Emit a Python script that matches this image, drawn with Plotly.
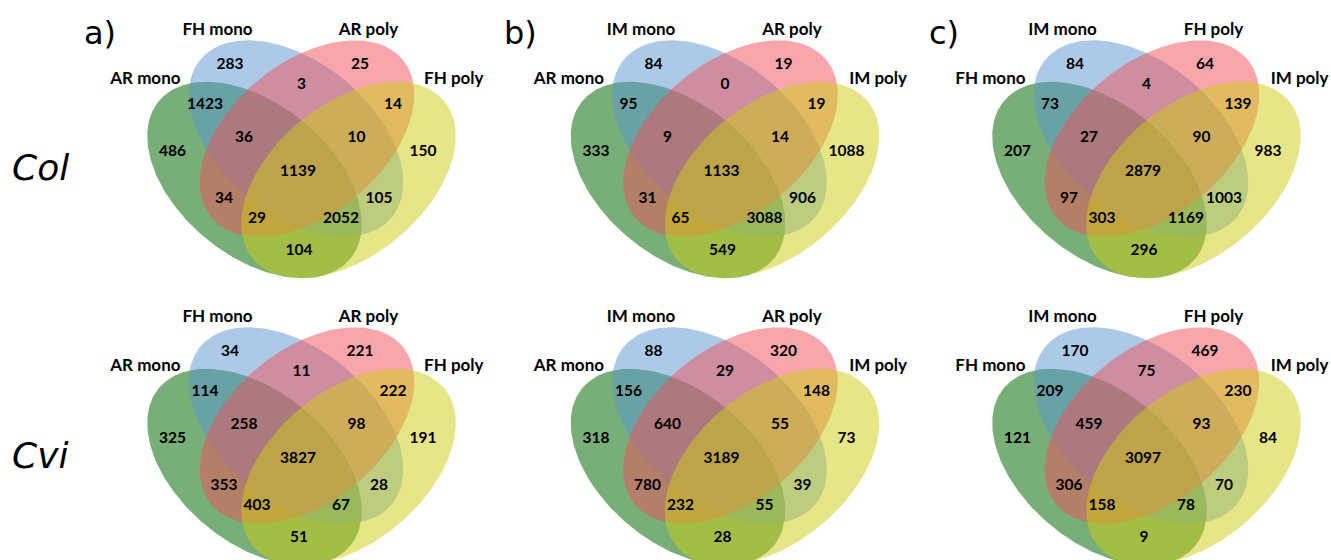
import numpy as np
import plotly.graph_objects as go

# ---------------- data ----------------
ROW_LABELS = ["Col", "Cvi"]
PANEL_LETTERS = ["a)", "b)", "c)"]

SETS_A = ["AR mono", "FH mono", "AR poly", "FH poly"]
SETS_B = ["AR mono", "IM mono", "AR poly", "IM poly"]
SETS_C = ["FH mono", "IM mono", "FH poly", "IM poly"]

# region keys: A = green (left), B = blue, C = red, D = yellow (right)
REGIONS = ["A", "B", "C", "D", "AB", "AC", "AD", "BC", "BD", "CD",
           "ABC", "ABD", "ACD", "BCD", "ABCD"]

COL_A = [486, 283, 25, 150, 1423, 34, 104, 3, 105, 14, 36, 2052, 29, 10, 1139]
COL_B = [333, 84, 19, 1088, 95, 31, 549, 0, 906, 19, 9, 3088, 65, 14, 1133]
COL_C = [207, 84, 64, 983, 73, 97, 296, 4, 1003, 139, 27, 1169, 303, 90, 2879]
CVI_A = [325, 34, 221, 191, 114, 353, 51, 11, 28, 222, 258, 67, 403, 98, 3827]
CVI_B = [318, 88, 320, 73, 156, 780, 28, 29, 39, 148, 640, 55, 232, 55, 3189]
CVI_C = [121, 170, 469, 84, 209, 306, 9, 75, 70, 230, 459, 78, 158, 93, 3097]

# ---------------- layout / style ----------------
W, H = 1331, 560
PANEL_CX = [301.5, 725, 1146.5]
ROW_DY = [0, 287]

# ellipse geometry (relative to panel centre x and row top)
ELL_A, ELL_B, ELL_TH = 124.0, 76.0, np.deg2rad(39.4)
ELL_CENTERS = {"A": (-47.0, 180.0, +1), "B": (-5.5, 138.5, +1),
               "C": (5.5, 138.5, -1), "D": (47.0, 180.0, -1)}
ELL_COLORS = {"A": "rgba(30,120,30,0.6)", "B": "rgba(90,150,210,0.5)",
              "C": "rgba(240,80,90,0.5)", "D": "rgba(205,205,20,0.5)"}

REGION_POS = {"A": (-129, 152), "B": (-71.5, 65), "C": (58.5, 65), "D": (121.5, 152),
              "AB": (-96.5, 105), "AC": (-77.5, 199), "AD": (-2.5, 251),
              "BC": (0, 85), "BD": (77.5, 199), "CD": (91.5, 105),
              "ABC": (-57.5, 138), "ABD": (39.5, 219), "ACD": (-44.5, 219),
              "BCD": (55, 138), "ABCD": (-3.5, 172)}
# (x, y, textposition) for the four set labels
LABEL_POS = [(-121, 79.5, "middle left"), (-84, 30.5, "middle center"),
             (67, 30.5, "middle center"), (182, 79.5, "middle left")]

NUM_FONT = dict(family="Lato", size=15.5, color="black")
LAB_FONT = dict(family="Lato", size=17, color="black")

panels = [
    [(SETS_A, COL_A), (SETS_B, COL_B), (SETS_C, COL_C)],
    [(SETS_A, CVI_A), (SETS_B, CVI_B), (SETS_C, CVI_C)],
]

fig = go.Figure()
t = np.linspace(0, 2 * np.pi, 240)

for r, row in enumerate(panels):
    dy = ROW_DY[r]
    for p, (names, vals) in enumerate(row):
        cx0 = PANEL_CX[p]
        for key in ["A", "B", "C", "D"]:
            ox, oy, sgn = ELL_CENTERS[key]
            ux, uy = sgn * np.cos(ELL_TH), np.sin(ELL_TH)
            vx, vy = -uy, ux
            xs = cx0 + ox + ELL_A * np.cos(t) * ux + ELL_B * np.sin(t) * vx
            ys = dy + oy + ELL_A * np.cos(t) * uy + ELL_B * np.sin(t) * vy
            fig.add_trace(go.Scatter(x=xs, y=ys, mode="lines", fill="toself",
                                     fillcolor=ELL_COLORS[key], line=dict(width=0),
                                     hoverinfo="skip", showlegend=False))
        # counts
        fig.add_trace(go.Scatter(
            x=[cx0 + REGION_POS[k][0] for k in REGIONS],
            y=[dy + REGION_POS[k][1] for k in REGIONS],
            text=[f"<b>{v}</b>" for v in vals], mode="text",
            textfont=NUM_FONT, textposition="middle center",
            hoverinfo="skip", showlegend=False))
        # set labels
        for (lx, ly, tp), name in zip(LABEL_POS, names):
            fig.add_trace(go.Scatter(
                x=[cx0 + lx], y=[dy + ly], text=[f"<b>{name}</b>"], mode="text",
                textfont=LAB_FONT, textposition=tp,
                hoverinfo="skip", showlegend=False))

# panel letters
LETTER_X = [100, 520, 944]
for p, letter in enumerate(PANEL_LETTERS):
    fig.add_annotation(x=LETTER_X[p], y=33, text=letter, showarrow=False,
                       font=dict(family="DejaVu Sans", size=32, color="black"),
                       xanchor="center", yanchor="middle")
# row labels
for r, lab in enumerate(ROW_LABELS):
    fig.add_annotation(x=40, y=167 + ROW_DY[r] + (1 if r else 0), text=f"<i>{lab}</i>",
                       showarrow=False,
                       font=dict(family="DejaVu Sans", size=36, color="black"),
                       xanchor="center", yanchor="middle")

fig.update_layout(
    width=W, height=H, margin=dict(l=0, r=0, t=0, b=0),
    paper_bgcolor="white", plot_bgcolor="white",
    xaxis=dict(range=[0, W], visible=False, fixedrange=True),
    yaxis=dict(range=[H, 0], visible=False, fixedrange=True),
)

fig.write_html("out.html", config={"displayModeBar": False},
               post_script="document.body.style.margin='0';document.body.style.overflow='hidden';")
